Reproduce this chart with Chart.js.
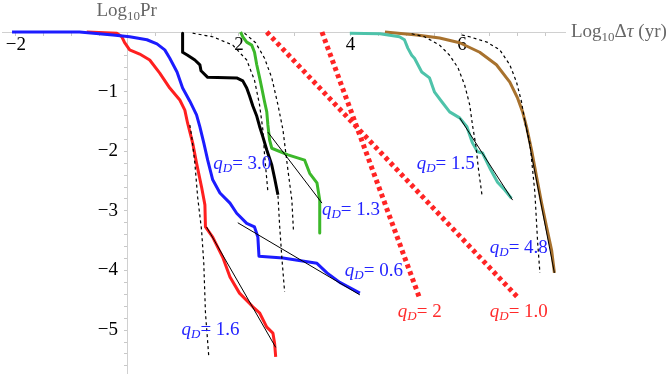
<!DOCTYPE html>
<html><head><meta charset="utf-8">
<script src="https://cdn.jsdelivr.net/npm/chart.js@4.4.0/dist/chart.umd.min.js"></script>
<style>html,body{margin:0;padding:0;background:#fff;overflow:hidden}</style>
</head><body>
<canvas id="c" width="666" height="376"></canvas>
<script>
// ---- data (log10 Δτ [yr], log10 Pr) ----
const blueX = [-2.07,-0.86,-0.26,0.04,0.35,0.53,0.67,0.76,0.89,0.99,1.12,1.24,1.30,1.37,1.44,1.53,1.66,1.84,1.96,2.14,2.28,2.34,2.36,2.79,3.40,3.58,3.81,4.17];
const blueY = [0,0,-0.05,-0.08,-0.13,-0.20,-0.30,-0.44,-0.67,-0.94,-1.16,-1.39,-1.59,-1.86,-2.15,-2.48,-2.70,-2.87,-3.04,-3.21,-3.27,-3.44,-3.76,-3.79,-3.88,-4.04,-4.20,-4.38];
const redX = [-0.73,-0.19,-0.10,-0.05,0.04,0.22,0.40,0.58,0.76,0.94,1.03,1.08,1.17,1.24,1.33,1.39,1.40,1.53,1.71,1.84,2.01,2.25,2.37,2.50,2.61,2.64,2.66];
const redY = [0,-0.02,-0.08,-0.18,-0.30,-0.37,-0.47,-0.69,-0.94,-1.14,-1.31,-1.53,-1.86,-2.20,-2.60,-2.90,-3.27,-3.44,-3.78,-4.11,-4.38,-4.61,-4.71,-4.95,-5.05,-5.22,-5.45];
const blackX = [0.99,0.99,1.08,1.21,1.30,1.32,1.44,1.96,2.07,2.14,2.19,2.25,2.32,2.37,2.43,2.50,2.59,2.64,2.70];
const blackY = [-0.02,-0.34,-0.39,-0.47,-0.55,-0.65,-0.76,-0.77,-0.82,-0.94,-1.07,-1.24,-1.41,-1.58,-1.76,-1.98,-2.23,-2.45,-2.73];
const greenX = [2.03,2.07,2.14,2.23,2.28,2.32,2.37,2.41,2.46,2.50,2.52,2.55,2.59,2.88,3.18,3.27,3.40,3.45,3.45];
const greenY = [0,-0.08,-0.17,-0.22,-0.34,-0.55,-0.76,-0.94,-1.17,-1.34,-1.56,-1.81,-1.95,-2.06,-2.15,-2.37,-2.53,-2.82,-3.37];
const tealX = [3.99,4.53,4.88,4.97,5.03,5.10,5.15,5.28,5.42,5.51,5.64,5.78,5.96,6.09,6.19,6.28,6.37,6.50,6.64,6.77,6.89];
const tealY = [-0.02,-0.03,-0.08,-0.13,-0.27,-0.39,-0.44,-0.67,-0.77,-1.01,-1.17,-1.34,-1.44,-1.59,-1.86,-2.01,-2.03,-2.28,-2.52,-2.65,-2.79];
const brownX = [4.62,5.19,5.60,5.96,6.32,6.62,6.86,7.00,7.09,7.16,7.25,7.34,7.43,7.52,7.61,7.66];
const brownY = [0,-0.05,-0.10,-0.18,-0.34,-0.55,-0.84,-1.11,-1.34,-1.59,-1.98,-2.43,-2.87,-3.27,-3.66,-4.04];
// model lines (red dotted)
const modelQ1X = [2.50,7.00];
const modelQ1Y = [0,-4.45];
const modelQ2X = [3.49,5.24];
const modelQ2Y = [0,-4.46];
// exponential-cutoff fits (black dashed)
const fitRedX = [1.12,1.15,1.21,1.26,1.33,1.37,1.40,1.46];
const fitRedY = [-1.56,-1.73,-2.20,-2.77,-3.32,-3.88,-4.71,-5.45];
const fitBlackX = [1.17,1.53,1.89,2.14,2.28,2.37,2.43,2.46,2.52];
const fitBlackY = [-0.02,-0.08,-0.22,-0.47,-0.81,-1.22,-1.64,-2.06,-2.68];
const fitBlueX = [2.64,2.70,2.73,2.77,2.82];
const fitBlueY = [-2.45,-2.73,-3.24,-3.78,-4.36];
const fitGreenX = [2.10,2.30,2.46,2.59,2.70,2.79,2.88,2.95,2.98];
const fitGreenY = [-0.02,-0.18,-0.44,-0.77,-1.22,-1.64,-2.32,-2.82,-3.36];
const fitTealX = [5.10,5.33,5.60,5.78,5.93,6.05,6.14,6.19,6.25,6.30,6.36];
const fitTealY = [-0.03,-0.08,-0.22,-0.39,-0.60,-0.89,-1.22,-1.56,-1.90,-2.32,-2.73];
const fitBrownX = [6.00,6.14,6.45,6.68,6.86,6.98,7.07,7.14,7.22,7.27,7.31,7.36,7.40];
const fitBrownY = [-0.05,-0.08,-0.17,-0.30,-0.55,-0.84,-1.17,-1.56,-1.86,-2.32,-2.70,-3.54,-4.04];
// power-law tail fits (thin black)
const lineRedX = [1.42,2.66];   const lineRedY = [-3.27,-5.29];
const lineBlueX = [1.98,4.17];  const lineBlueY = [-3.20,-4.41];
const lineGreenX = [2.52,3.49]; const lineGreenY = [-1.68,-2.87];
const lineTealX = [5.96,6.91];  const lineTealY = [-1.44,-2.82];
const lineBrownX = [7.13,7.66]; const lineBrownY = [-1.48,-4.04];
// labels
const labelText = ['3.0','1.3','0.6','1.6','1.5','4.8','2','1.0'];
const labelX = [1.54,3.49,3.90,0.97,5.19,6.50,4.85,6.50];
const labelY = [-2.20,-2.97,-3.99,-4.98,-2.20,-3.61,-4.68,-4.68];
const labelIsModel = [false,false,false,false,false,false,true,true];
// axis ticks
const xMajor = [-2,2,4,6];
const yMajor = [-1,-2,-3,-4,-5];

const pts = (xs, ys) => xs.map((x, i) => ({x, y: ys[i]}));
const curve = (xs, ys, color) => ({data: pts(xs, ys), borderColor: color, borderWidth: 3, order: 2});
const dashed = (xs, ys) => ({data: pts(xs, ys), borderColor: '#000', borderWidth: 1.2, borderDash: [3, 3], order: 1});
const thin = (xs, ys) => ({data: pts(xs, ys), borderColor: '#000', borderWidth: 1, order: 0});
const dotted = (xs, ys) => ({data: pts(xs, ys), borderColor: '#ff2424', borderWidth: 5, borderDash: [4, 3.5], order: 3});

const SERIF = '"Liberation Serif", "DejaVu Serif", serif';
const noPad = (s) => { s.paddingTop = 0; s.paddingBottom = 0; s.paddingLeft = 0; s.paddingRight = 0; };

const annot = {
  id: 'annot',
  afterDatasetsDraw(chart) {
    const ctx = chart.ctx, xs = chart.scales.x, ys = chart.scales.y;
    ctx.save();
    ctx.textBaseline = 'alphabetic';
    ctx.fillStyle = '#666';
    const drawLog = (x0, base, tail) => {
      ctx.textAlign = 'left';
      ctx.font = '19px ' + SERIF;
      ctx.fillText('Log', x0, base);
      let x = x0 + ctx.measureText('Log').width;
      ctx.font = '13px ' + SERIF;
      ctx.fillText('10', x, base + 4);
      x += ctx.measureText('10').width;
      tail.forEach(([t, st]) => { ctx.font = st + '19px ' + SERIF; ctx.fillText(t, x, base); x += ctx.measureText(t).width; });
      return x;
    };
    const cx = xs.getPixelForValue(0);
    drawLog(cx - 31, 16, [['Pr', '']]);
    drawLog(571, 37, [['Δ', ''], ['τ', 'italic '], [' (yr)', '']]);
    labelText.forEach((t, i) => {
      const px = xs.getPixelForValue(labelX[i]);
      const py = ys.getPixelForValue(labelY[i]) + 6;
      ctx.fillStyle = labelIsModel[i] ? '#ff2a2a' : '#2424ff';
      ctx.textAlign = 'left';
      ctx.font = 'italic 19px ' + SERIF;
      ctx.fillText('q', px, py);
      let x = px + ctx.measureText('q').width;
      ctx.font = 'italic 13px ' + SERIF;
      ctx.fillText('D', x, py + 3);
      x += ctx.measureText('D').width;
      ctx.font = '19px ' + SERIF;
      ctx.fillText('= ' + t, x, py);
    });
    ctx.restore();
  }
};

new Chart(document.getElementById('c'), {
  type: 'scatter',
  data: {
    datasets: [
      thin(lineRedX, lineRedY), thin(lineBlueX, lineBlueY), thin(lineGreenX, lineGreenY),
      thin(lineTealX, lineTealY), thin(lineBrownX, lineBrownY),
      dashed(fitRedX, fitRedY), dashed(fitBlackX, fitBlackY), dashed(fitBlueX, fitBlueY),
      dashed(fitGreenX, fitGreenY), dashed(fitTealX, fitTealY), dashed(fitBrownX, fitBrownY),
      curve(blueX, blueY, '#1c1cff'), curve(redX, redY, '#ff2020'), curve(blackX, blackY, '#000000'),
      curve(greenX, greenY, '#3cb82a'), curve(tealX, tealY, '#4ec3aa'), curve(brownX, brownY, '#a8722e'),
      dotted(modelQ1X, modelQ1Y), dotted(modelQ2X, modelQ2Y)
    ]
  },
  options: {
    responsive: false,
    animation: false,
    devicePixelRatio: 1,
    layout: {padding: {left: 2, right: 101, top: 32, bottom: 3}},
    datasets: {scatter: {showLine: true, pointRadius: 0, pointHoverRadius: 0, fill: false, tension: 0, clip: false, borderCapStyle: 'butt', borderJoinStyle: 'round'}},
    plugins: {legend: {display: false}, tooltip: {enabled: false}},
    scales: {
      x: {
        type: 'linear', min: -2.25, max: 7.85, position: {y: 0},
        afterBuildTicks(s) { const t = []; for (let k = -4; k <= 15; k++) t.push({value: k / 2}); s.ticks = t; },
        afterFit(s) { s.height = 0; noPad(s); },
        ticks: {autoSkip: false, maxRotation: 0, padding: -1, color: '#000', font: {family: SERIF, size: 19},
          callback: (v) => xMajor.includes(v) ? (v < 0 ? '\u2212' + (-v) : String(v)) : ''},
        grid: {drawOnChartArea: false, tickLength: 3, color: '#c8c8c8'},
        border: {color: '#d0d0d0', width: 1}
      },
      y: {
        type: 'linear', min: -5.72, max: 0, position: {x: 0},
        afterBuildTicks(s) { const t = []; for (let k = -28; k <= 0; k++) t.push({value: Math.round(k * 2) / 10}); s.ticks = t; },
        afterFit(s) { s.width = 0; noPad(s); },
        ticks: {autoSkip: false, padding: 0, color: '#000', font: {family: SERIF, size: 19},
          callback: (v) => yMajor.includes(v) ? '\u2212' + (-v) + '\u2002' : ''},
        grid: {drawOnChartArea: false, tickLength: 3, color: '#c8c8c8'},
        border: {color: '#d0d0d0', width: 1}
      }
    }
  },
  plugins: [annot]
});
</script>
</body></html>
